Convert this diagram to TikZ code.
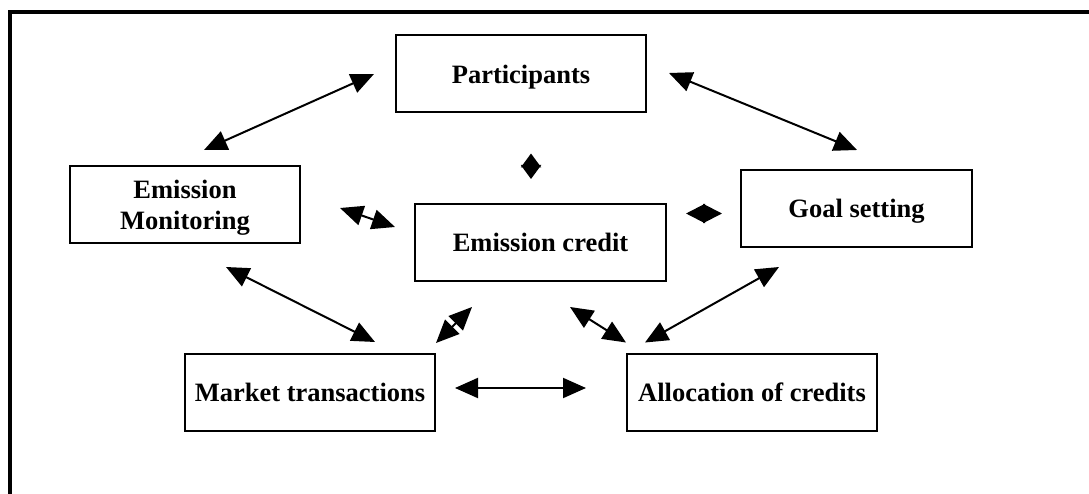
\documentclass[tikz,border=0pt]{standalone}
\usepackage{fontspec}
\setmainfont{Liberation Serif}
\usetikzlibrary{arrows.meta, positioning, calc}

\begin{document}
\begin{tikzpicture}[x=1pt, y=-1pt,
    box/.style={draw, line width=2pt, rectangle, minimum width=250pt, minimum height=77pt,
      inner sep=0pt, text depth=0pt, align=center, font=\bfseries\fontsize{26.5}{31}\selectfont},
    link/.style={line width=2pt, {Triangle[length=23pt,width=20pt]}-{Triangle[length=23pt,width=20pt]}},
    stub/.style={line width=2pt, {Triangle[length=14pt,width=20pt]}-{Triangle[length=14pt,width=20pt]}}]
      \useasboundingbox (0,0) rectangle (1089,494);

      % Frame
      \draw[line width=4pt] (10.3,494) -- (10.3,12) -- (1089,12);

      % Boxes
      \node[box] (part) at (521,74) {Participants};
      \node[box, minimum width=230pt] (mon) at (185,204.5) {Emission\\Monitoring};
      \node[box, minimum width=231pt] (goal) at (856.5,208.5) {Goal setting};
      \node[box, minimum width=251pt] (cred) at (540.5,242.5) {Emission credit};
      \node[box] (mkt) at (310,392.5) {Market transactions};
      \node[box] (alloc) at (752,392) {Allocation of credits};

      % Links around the participants
      \draw[link] ($(part.west)+(-21,0)$) -- ($(mon.north)+(19,-15)$);
      \draw[link] ($(part.east)+(22,-1)$) -- ($(goal.north)+(0.5,-19)$);
      \draw[stub] ($(part.south)+(10,40)$) -- ($(cred.north)+(-9.5,-24)$);

      % Links to the emission credit
      \draw[link] ($(mon.east)+(39,3.5)$) -- ($(cred.west)+(-19,-15.5)$);
      \draw[stub, {Triangle[length=19pt,width=19pt]}-{Triangle[length=19pt,width=19pt]}]
        ($(goal.west)+(-18,5)$) -- ($(cred.east)+(19,-29)$);
      \draw[link] ($(cred.south)+(-68.5,25)$) -- ($(mkt.north east)+(0,-10)$);
      \draw[link] ($(cred.south)+(29.5,25)$) -- ($(alloc.north west)+(0,-10)$);

      % Lower links
      \draw[link] ($(mon.south)+(41,23)$) -- ($(mkt.north)+(65,-11)$);
      \draw[link] ($(goal.south)+(-77.5,19)$) -- ($(alloc.north west)+(19,-10)$);
      \draw[link] ($(mkt.east)+(19,-4.5)$) -- ($(alloc.west)+(-40,-4)$);
    \end{tikzpicture}
\end{document}
